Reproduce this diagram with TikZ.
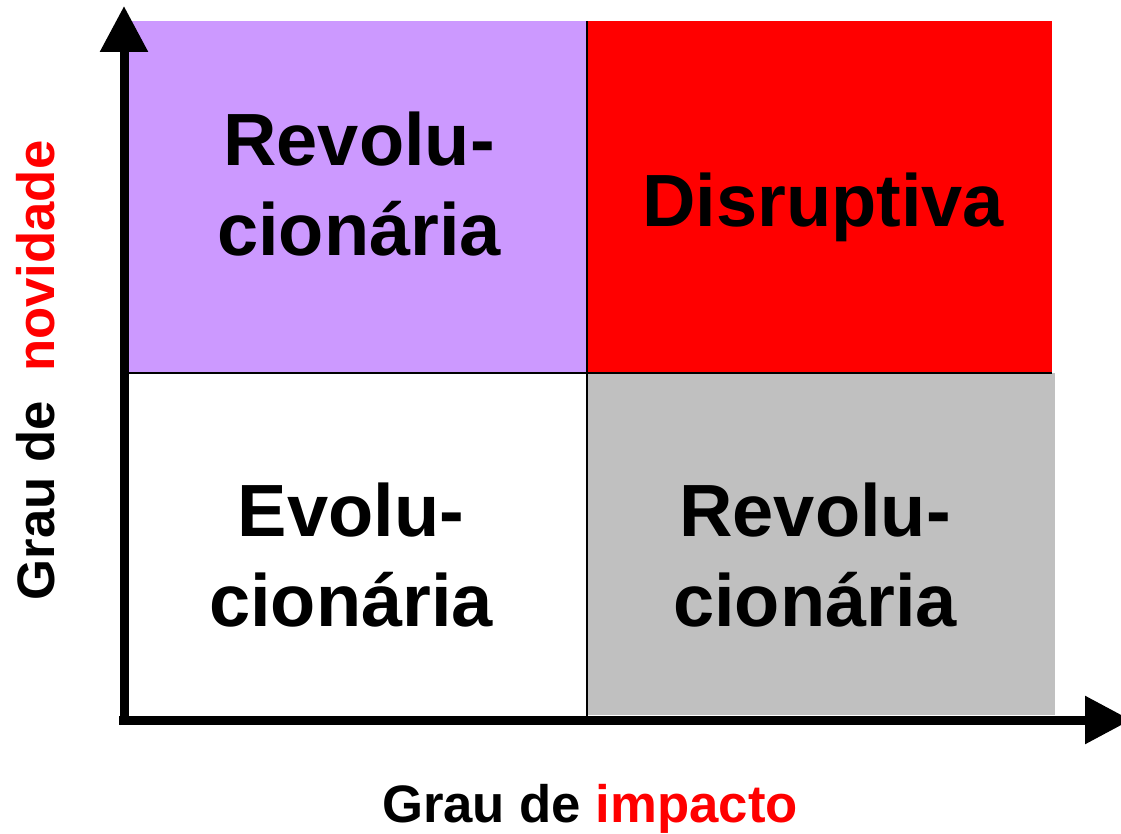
\documentclass[tikz,border=0pt]{standalone}
\usepackage{fontspec}
\setmainfont{Liberation Sans}
\usetikzlibrary{arrows.meta}
\definecolor{lilas}{RGB}{204,153,255}
\definecolor{cinza}{RGB}{192,192,192}
\begin{document}
\begin{tikzpicture}[x=1pt, y=1pt, line join=miter, >={Triangle[length=46pt,width=46pt]}]
	\tikzset{quad text/.style={inner sep=0pt, align=center, anchor=north, font=\fontsize{74}{90}\selectfont\bfseries},
		axis label/.style={inner sep=0pt, anchor=base, font=\fontsize{52.7}{60}\selectfont\bfseries},
		axis/.style={line width=9pt, ->},
		grid line/.style={line width=2pt}}
	\useasboundingbox (0,0) rectangle (1121,833);
	\fill[lilas] (129,460) rectangle (587,812);
	\fill[red] (587,460) rectangle (1052,812);
	\fill[cinza] (587,118) rectangle (1055,460);
	\coordinate (mtop) at (587,812);
	\coordinate (mbot) at (587,113);
	\coordinate (mleft) at (129,460);
	\coordinate (mright) at (1052,460);
	\draw[grid line] (mtop) -- (mbot);
	\draw[grid line] (mleft) -- (mright);
	\coordinate (ybot) at (124,108);
	\coordinate (ytop) at (124,827);
	\coordinate (xleft) at (119,113);
	\coordinate (xright) at (1131,113);
	\draw[axis] (ybot) -- (ytop);
	\draw[axis] (xleft) -- (xright);
	\node[quad text] (revtop) at (359,721) {Revolu-\\cionária};
	\node[quad text] (disr) at (823,660) {Disruptiva};
	\node[quad text] (evol) at (351,350) {Evolu-\\cionária};
	\node[quad text] (revbot) at (815,350) {Revolu-\\cionária};
	\node[axis label] (xlab) at (590,11) {Grau de \textcolor{red}{impacto}};
	\node[axis label, rotate=90] (ylab) at (54,462.5) {Grau de\ \ \textcolor{red}{novidade}};
\end{tikzpicture}
\end{document}
